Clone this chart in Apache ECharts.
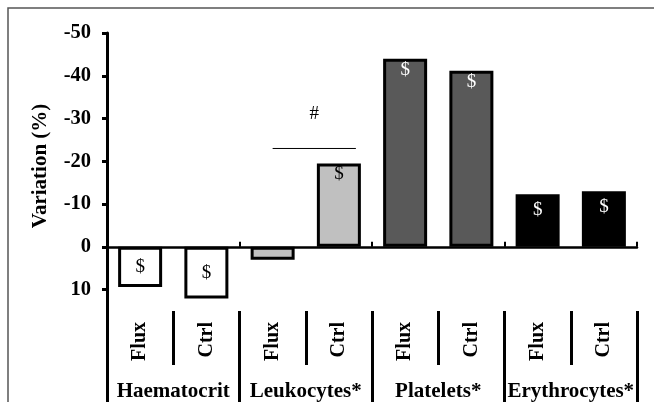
<!DOCTYPE html>
<html>
<head>
<meta charset="utf-8">
<script src="https://cdn.jsdelivr.net/npm/echarts@6/dist/echarts.min.js"></script>
<style>html,body{margin:0;padding:0;background:#fff;}#c{width:654px;height:402px;}</style>
</head>
<body>
<div id="c"></div>
<script>
const groups = ['Haematocrit', 'Leukocytes*', 'Platelets*', 'Erythrocytes*'];
const subLabels = ['Flux', 'Ctrl', 'Flux', 'Ctrl', 'Flux', 'Ctrl', 'Flux', 'Ctrl'];
const values = [9.4, 12.1, 3.0, -19.5, -44.0, -41.2, -12.3, -13.0];
const barColors = ['#ffffff', '#ffffff', '#c0c0c0', '#c0c0c0', '#595959', '#595959', '#000000', '#000000'];
const sigLabels = ['$', '$', '', '$', '$', '$', '$', '$'];
const labelColors = ['#000', '#000', '#000', '#000', '#fff', '#fff', '#fff', '#fff'];
const labelPos = ['inside', 'inside', 'inside', 'insideTop', 'insideTop', 'insideTop', 'insideTop', 'insideTop'];
const labelDist = [0, 0, 0, 1, 2, 2, 6, 6];
const yTicks = [-50, -40, -30, -20, -10, 0, 10];
const bracketValue = -23;
const hashValue = -31;

const FONT = '"Liberation Serif", "Times New Roman", serif';
const chart = echarts.init(document.getElementById('c'));
const cats = subLabels.map((s, i) => groups[Math.floor(i / 2)] + ' ' + s);

chart.setOption({
  animation: false,
  grid: { left: 107, right: 17, top: 33, bottom: 91, containLabel: false },
  xAxis: [
    {
      type: 'category', data: cats, position: 'bottom',
      axisLine: { onZero: true, lineStyle: { color: '#000', width: 2.5 } },
      axisTick: { show: true, inside: true, length: 5, lineStyle: { color: '#000', width: 2 } },
      axisLabel: { show: false }
    },
    {
      type: 'category', data: subLabels, position: 'bottom', offset: 0,
      axisLine: { show: false, onZero: false },
      axisTick: { show: true, length: 54, lineStyle: { color: '#000', width: 3 } },
      axisLabel: { interval: 0, rotate: 90, margin: 11, fontFamily: FONT, fontWeight: 'bold', fontSize: 20, color: '#000' }
    },
    {
      type: 'category', data: groups, position: 'bottom', offset: 0,
      axisLine: { show: false, onZero: false },
      axisTick: { show: true, interval: 0, length: 92, lineStyle: { color: '#000', width: 3 } },
      axisLabel: { interval: 0, margin: 70, fontFamily: FONT, fontWeight: 'bold', fontSize: 21, color: '#000' }
    }
  ],
  yAxis: {
    type: 'value', inverse: true, min: -50, max: 15,
    name: 'Variation (%)', nameLocation: 'middle', nameGap: 56, nameRotate: 90,
    nameTextStyle: { fontFamily: FONT, fontWeight: 'bold', fontSize: 21, color: '#000', padding: [0, 0, 0, 12] },
    axisLine: { show: true, lineStyle: { color: '#000', width: 3 } },
    axisTick: { show: true, length: 5, customValues: yTicks, lineStyle: { color: '#000', width: 3 } },
    axisLabel: { customValues: yTicks, margin: 16, fontFamily: FONT, fontWeight: 'bold', fontSize: 20.5, color: '#000' },
    splitLine: { show: false }
  },
  series: [{
    type: 'bar',
    barWidth: 44,
    data: values.map((v, i) => ({
      value: v,
      itemStyle: { color: barColors[i], borderColor: '#000', borderWidth: 3 },
      label: {
        show: sigLabels[i] !== '', formatter: sigLabels[i], position: labelPos[i], distance: labelDist[i],
        color: labelColors[i], fontFamily: FONT, fontSize: 19
      }
    }))
  }]
});

function drawAnnotations() {
  const x1 = chart.convertToPixel({ xAxisIndex: 0 }, cats[2]);
  const x2 = chart.convertToPixel({ xAxisIndex: 0 }, cats[3]) + 17;
  const yLine = chart.convertToPixel({ yAxisIndex: 0 }, bracketValue);
  const yHash = chart.convertToPixel({ yAxisIndex: 0 }, hashValue);
  chart.setOption({
    graphic: [
      { type: 'rect', shape: { x: 8, y: 8, width: 800, height: 600 }, style: { fill: 'none', stroke: '#555', lineWidth: 1.5 }, silent: true },
      { type: 'line', shape: { x1: x1, y1: yLine, x2: x2, y2: yLine }, style: { stroke: '#000', lineWidth: 1 } },
      { type: 'text', x: (x1 + x2) / 2, y: yHash, style: { text: '#', fill: '#000', font: '19px ' + FONT, align: 'center', verticalAlign: 'middle' } }
    ]
  });
}
drawAnnotations();
</script>
</body>
</html>
